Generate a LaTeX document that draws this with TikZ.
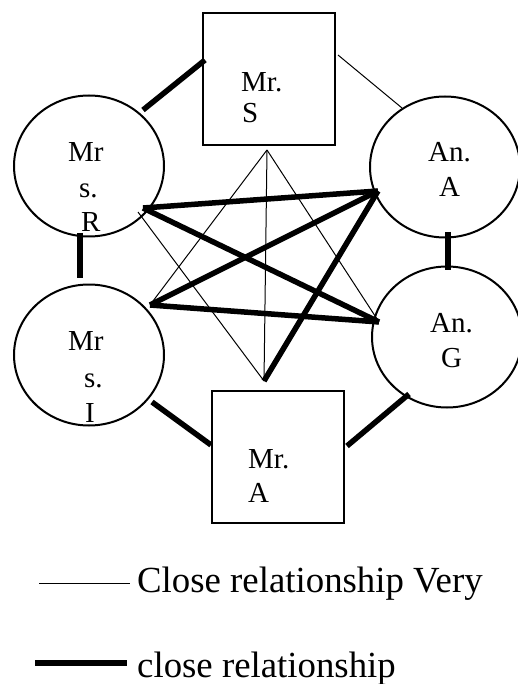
\documentclass[tikz,border=0pt]{standalone}
\usepackage{fontspec}
\setmainfont{Liberation Serif}
\usetikzlibrary{shapes.geometric,calc}
\tikzset{
  person/.style={ellipse, draw, line width=2pt, minimum width=150pt, minimum height=141pt, inner sep=0pt},
  boxnode/.style={rectangle, draw, line width=2.4pt, minimum width=132pt, minimum height=132pt, inner sep=0pt},
  lbl/.style={anchor=base west, inner sep=0pt, font=\fontsize{29}{30}\selectfont},
  leg/.style={anchor=base west, inner sep=0pt, font=\fontsize{36.8}{40}\selectfont},
  thickrel/.style={line width=5.5pt},
  thinrel/.style={line width=1pt}
}
\begin{document}
\begin{tikzpicture}[x=1pt,y=-1pt]
\useasboundingbox (0,0) rectangle (517,684);
% shapes
\node[boxnode] (S) at (269,79) {};
\node[boxnode] (M) at (278,457) {};
\node[person] (R) at (89,166) {};
\node[person] (I) at (89,355) {};
\node[person] (A) at (445,167) {};
\node[person] (G) at (447,337) {};
% labels
\node[lbl] (St1) at (241,92) {Mr.};
\node[lbl] (St2) at (242,123) {S};
\node[lbl] (Mt1) at (248,468) {Mr.};
\node[lbl] (Mt2) at (248,502) {A};
\node[lbl] (Rt1) at (68,162) {Mr};
\node[lbl] (Rt2) at (79,198) {s.};
\node[lbl] (Rt3) at (81,232) {R};
\node[lbl] (It1) at (68,350) {Mr};
\node[lbl] (It2) at (84,387) {s.};
\node[lbl] (It3) at (85,422) {I};
\node[lbl] (At1) at (428,162) {An.};
\node[lbl] (At2) at (439,197) {A};
\node[lbl] (Gt1) at (430,332) {An.};
\node[lbl] (Gt2) at (441,367) {G};
% hub points
\coordinate (Rh) at ($(R.center)+(54,42)$);
\coordinate (Ah) at ($(A.center)+(-67,24)$);
\coordinate (Ih) at ($(I.center)+(61,-50)$);
\coordinate (Gh) at ($(G.center)+(-68,-15)$);
\coordinate (Sh) at ($(S.center)+(-2,71)$);
\coordinate (Mh) at ($(M.center)+(-14,-76)$);
% thin connectors
\draw[thinrel] (Sh) -- (Ih);
\draw[thinrel] (Sh) -- (Mh);
\draw[thinrel] (Sh) -- (Gh);
\draw[thinrel] ($(R.center)+(49,46)$) -- (Mh);
\draw[thinrel] ($(S.center)+(69,-24)$) -- ($(A.center)+(-43,-59)$);
% thick connectors
\draw[thickrel] (Rh) -- (Ah);
\draw[thickrel] (Rh) -- (Gh);
\draw[thickrel] (Ih) -- (Ah);
\draw[thickrel] (Ih) -- (Gh);
\draw[thickrel] (Ah) -- (Mh);
\draw[thickrel] ($(R.center)+(54,-56)$) -- ($(S.center)+(-64,-19)$);
\draw[thickrel] ($(R.center)+(-9,67)$) -- ($(I.center)+(-9,-77)$);
\draw[thickrel] ($(A.center)+(3,65)$) -- ($(G.center)+(1,-67)$);
\draw[thickrel] ($(I.center)+(63,47)$) -- ($(M.center)+(-67,-12)$);
\draw[thickrel] ($(G.center)+(-38,57)$) -- ($(M.center)+(69,-11)$);
% legend
\node[leg] (L1) at (137,592) {Close relationship Very};
\node[leg] (L2) at (137,677) {close relationship};
\coordinate (L1a) at (39,583);
\coordinate (L2a) at (35,663);
\draw[thinrel] (L1a) -- ($(L1.base west)+(-7,-9)$);
\draw[thickrel] (L2a) -- ($(L2.base west)+(-10,-14)$);
\end{tikzpicture}
\end{document}
